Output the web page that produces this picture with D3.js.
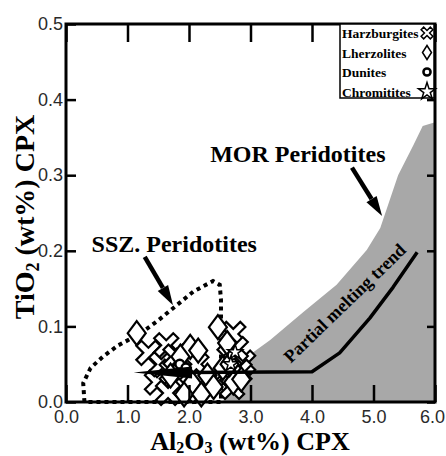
<!DOCTYPE html>
<html>
<head>
<meta charset="utf-8">
<script src="https://cdn.jsdelivr.net/npm/d3@7"></script>
<style>
body{margin:0;background:#fff}
svg{display:block}
</style>
</head>
<body>
<div id="chart"></div>
<script>
// tick values
var xTicks = [0, 1, 2, 3, 4, 5, 6]
var yTicks = [0, 0.1, 0.2, 0.3, 0.4, 0.5]

// sample points (Al2O3, TiO2)
var harzAl = [1.34, 1.63, 1.48, 1.80, 1.55, 1.72, 1.92, 2.00, 1.95, 2.12, 1.78, 2.72, 2.88, 2.66, 2.76, 2.60, 2.82, 2.70, 1.66, 2.22]
var harzTi = [0.065, 0.075, 0.026, 0.028, 0.050, 0.040, 0.055, 0.035, 0.015, 0.050, 0.060, 0.090, 0.052, 0.060, 0.070, 0.035, 0.040, 0.020, 0.012, 0.025]

var lherzAl = [1.15, 2.47, 2.72, 2.02, 1.86, 2.15, 2.30, 2.05, 1.92, 2.55, 2.85, 2.62, 1.70, 2.40, 2.66, 2.20]
var lherzTi = [0.091, 0.099, 0.026, 0.073, 0.060, 0.068, 0.035, 0.025, 0.010, 0.045, 0.030, 0.078, 0.035, 0.020, 0.050, 0.010]

var dunAl = [1.85, 1.95, 2.70]
var dunTi = [0.050, 0.045, 0.062]

var chrAl = [2.75, 2.68]
var chrTi = [0.066, 0.050]

// MOR peridotite field, upper edge
var morAl = [2.55, 2.75, 3.00, 3.32, 3.86, 4.40, 4.89, 5.11, 5.40, 5.65, 5.80, 6.00]
var morTi = [0.000, 0.035, 0.063, 0.082, 0.119, 0.155, 0.201, 0.230, 0.300, 0.340, 0.365, 0.370]

// SSZ peridotite field outline
var sszAl = [0.30, 0.28, 0.40, 0.60, 0.85, 1.20, 1.50, 1.80, 2.07, 2.39, 2.50, 2.52, 2.52, 0.30]
var sszTi = [0.000, 0.025, 0.045, 0.060, 0.075, 0.090, 0.108, 0.128, 0.146, 0.160, 0.155, 0.135, 0.000, 0.000]

// partial melting trend (first point is the arrow tip)
var meltAl = [1.10, 4.00, 4.45, 4.94, 5.32, 5.71]
var meltTi = [0.039, 0.040, 0.065, 0.111, 0.152, 0.198]

var legendNames = ['Harzburgites', 'Lherzolites', 'Dunites', 'Chromitites']

var w = 446
var h = 456

var x = d3.scaleLinear().domain([0, 6]).range([66, 435])
var y = d3.scaleLinear().domain([0, 0.5]).range([402, 24])

var svg = d3.select('#chart').append('svg')
    .attr('width', w)
    .attr('height', h)

function pts(a, b){
    return a.map(function(d, i){ return [d, b[i]] })
}

var line = d3.line()
    .x(function(d){ return x(d[0]) })
    .y(function(d){ return y(d[1]) })

// gray MOR field
var mor = pts(morAl, morTi)
mor.push([6, 0])
svg.append('path')
    .attr('d', line(mor) + 'Z')
    .attr('fill', '#a8a8a8')

// SSZ dotted field
svg.append('path')
    .attr('d', line(pts(sszAl, sszTi)))
    .attr('fill', 'none')
    .attr('stroke', '#000')
    .attr('stroke-width', 4)
    .attr('stroke-dasharray', '4 4')

// hollow x and diamond shapes
function crossPath(s, k){
    var c = [[k,-s],[k,-k],[s,-k],[s,k],[k,k],[k,s],[-k,s],[-k,k],[-s,k],[-s,-k],[-k,-k],[-k,-s]]
    var r = Math.SQRT1_2
    return 'M' + c.map(function(p){ return [(p[0]-p[1])*r, (p[0]+p[1])*r].join(',') }).join('L') + 'Z'
}
function diamondPath(wd, ht){
    return 'M0,' + (-ht) + 'L' + wd + ',0L0,' + ht + 'L' + (-wd) + ',0Z'
}

function drawPoints(a, b, d, sw){
    svg.append('g').selectAll('path')
        .data(pts(a, b))
        .enter()
        .append('path')
        .attr('d', d)
        .attr('transform', function(p){ return 'translate(' + x(p[0]) + ',' + y(p[1]) + ')' })
        .attr('fill', '#fff')
        .attr('stroke', '#000')
        .attr('stroke-width', sw)
}

drawPoints(harzAl, harzTi, crossPath(13.5, 3.6), 2.2)
drawPoints(lherzAl, lherzTi, diamondPath(9, 12), 2.2)
drawPoints(dunAl, dunTi, d3.symbol().type(d3.symbolCircle).size(60)(), 2.5)
drawPoints(chrAl, chrTi, d3.symbol().type(d3.symbolStar).size(70)(), 1.5)

// partial melting trend with its arrow head
var melt = pts(meltAl, meltTi)
var tipY = y(melt[0][1])
svg.append('path')
    .attr('d', line([[2.0, melt[0][1]]].concat(melt.slice(1))))
    .attr('fill', 'none')
    .attr('stroke', '#000')
    .attr('stroke-width', 3.5)
    .attr('stroke-linejoin', 'round')
svg.append('path')
    .attr('d', 'M' + x(melt[0][0]) + ',' + tipY + 'L' + x(2.05) + ',' + (tipY - 6) + 'L' + x(2.05) + ',' + (tipY + 6) + 'Z')
    .attr('fill', '#000')

svg.append('text')
    .attr('transform', 'translate(' + x(4.6) + ',' + y(0.125) + ') rotate(-44)')
    .attr('text-anchor', 'middle')
    .style('font', 'bold 18px "Liberation Serif"')
    .text('Partial melting trend')

// annotation arrows
function arrow(x1, y1, x2, y2){
    var px1 = x(x1), py1 = y(y1), px2 = x(x2), py2 = y(y2)
    var a = Math.atan2(py2 - py1, px2 - px1)
    var L = 20, hw = 6
    var bx = px2 - L*Math.cos(a), by = py2 - L*Math.sin(a)
    svg.append('line')
        .attr('x1', px1).attr('y1', py1)
        .attr('x2', bx).attr('y2', by)
        .attr('stroke', '#000')
        .attr('stroke-width', 4.5)
    svg.append('path')
        .attr('d', 'M' + px2 + ',' + py2 + 'L' + (bx + hw*Math.sin(a)) + ',' + (by - hw*Math.cos(a)) + 'L' + (bx - hw*Math.sin(a)) + ',' + (by + hw*Math.cos(a)) + 'Z')
        .attr('fill', '#000')
}
arrow(4.65, 0.310, 5.14, 0.246)
arrow(1.28, 0.192, 1.74, 0.128)

svg.append('text')
    .attr('x', x(3.77)).attr('y', y(0.318))
    .attr('text-anchor', 'middle')
    .style('font', 'bold 24px "Liberation Serif"')
    .text('MOR Peridotites')
svg.append('text')
    .attr('x', x(1.76)).attr('y', y(0.199))
    .attr('text-anchor', 'middle')
    .style('font', 'bold 24px "Liberation Serif"')
    .text('SSZ. Peridotites')

// axes, ticks point inward
var fmt = d3.format('.1f')
var xb = svg.append('g')
    .attr('transform', 'translate(0,402)')
    .call(d3.axisBottom(x).tickValues(xTicks).tickSize(-17).tickPadding(8).tickFormat(fmt))
// last label sits on the page edge, pull it in a little
xb.selectAll('.tick text').filter(function(d){ return d === 6 }).attr('dx', -3)
svg.append('g')
    .attr('transform', 'translate(66,0)')
    .call(d3.axisLeft(y).tickValues(yTicks).tickSize(-10).tickPadding(3).tickFormat(fmt))
svg.append('g')
    .attr('transform', 'translate(0,24)')
    .call(d3.axisTop(x).tickValues(xTicks).tickSize(-18).tickFormat(''))
svg.append('g')
    .attr('transform', 'translate(435,0)')
    .call(d3.axisRight(y).tickValues(yTicks).tickSize(-8).tickFormat(''))

svg.selectAll('.domain').remove()
svg.selectAll('.tick line').attr('stroke', '#000').attr('stroke-width', 2.5)
svg.selectAll('.tick text')
    .attr('fill', '#2a2a2a')
    .style('font-family', '"Liberation Sans", Arial')
    .style('font-size', '18px')

// frame
svg.append('rect')
    .attr('x', 66).attr('y', 24)
    .attr('width', 369).attr('height', 378)
    .attr('fill', 'none')
    .attr('stroke', '#000')
    .attr('stroke-width', 3)

// axis titles
var xt = svg.append('text')
    .attr('x', 250).attr('y', 450)
    .attr('text-anchor', 'middle')
    .style('font', 'bold 26px "Liberation Serif"')
xt.append('tspan').text('Al')
xt.append('tspan').attr('dy', 3).style('font-size', '16px').text('2')
xt.append('tspan').attr('dy', -3).text('O')
xt.append('tspan').attr('dy', 3).style('font-size', '16px').text('3')
xt.append('tspan').attr('dy', -3).text(' (wt%) CPX')

var yt = svg.append('text')
    .attr('transform', 'translate(34,217) rotate(-90)')
    .attr('text-anchor', 'middle')
    .style('font', 'bold 28px "Liberation Serif"')
yt.append('tspan').text('TiO')
yt.append('tspan').attr('dy', 5).style('font-size', '18px').text('2')
yt.append('tspan').attr('dy', -5).text(' (wt%) CPX')

// legend
var lg = svg.append('g')
lg.append('rect')
    .attr('x', 340).attr('y', 24)
    .attr('width', 94).attr('height', 74)
    .attr('fill', '#fff')
    .attr('stroke', '#000')
    .attr('stroke-width', 1.5)
var legendShapes = [crossPath(6.5, 1.8), diamondPath(4.5, 7), d3.symbol().type(d3.symbolCircle).size(40)(), d3.symbol().type(d3.symbolStar).size(90)()]
var legendWidths = [1.5, 1.5, 2.5, 1.5]
legendNames.forEach(function(n, i){
    var yy = 33 + i*19.5
    lg.append('text')
        .attr('x', 342).attr('y', yy + 5)
        .style('font', 'bold 13.5px "Liberation Serif"')
        .text(n)
    lg.append('path')
        .attr('d', legendShapes[i])
        .attr('transform', 'translate(427,' + yy + ')')
        .attr('fill', '#fff')
        .attr('stroke', '#000')
        .attr('stroke-width', legendWidths[i])
})
</script>
</body>
</html>
